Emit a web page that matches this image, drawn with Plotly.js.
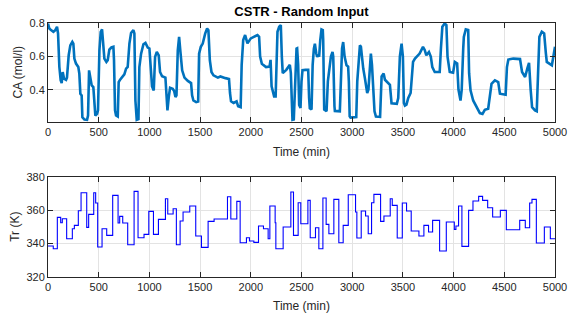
<!DOCTYPE html>
<html>
<head>
<meta charset="utf-8">
<script src="https://cdn.plot.ly/plotly-3.0.1.min.js"></script>
<style>html,body{margin:0;padding:0;background:#fff;}#chart{width:571px;height:324px;}</style>
</head>
<body>
<div id="chart"></div>
<script>
// Step input: reactor jacket temperature Tr (K), held from each time to the next
const trTime = [0,52,92,125,141,184,240,260,299,326,382,401,451,470,490,533,579,638,691,707,737,786,849,888,947,994,1040,1089,1158,1181,1234,1266,1303,1332,1398,1457,1513,1579,1638,1770,1803,1862,1895,1957,1987,2030,2076,2125,2171,2188,2240,2247,2319,2395,2421,2467,2493,2563,2586,2638,2671,2711,2743,2770,2819,2868,2911,2961,3033,3046,3089,3132,3158,3191,3214,3280,3313,3375,3395,3444,3494,3536,3582,3658,3707,3753,3793,3862,3928,4007,4023,4049,4082,4148,4191,4247,4286,4336,4385,4461,4520,4652,4707,4750,4773,4816,4895,4954,5000];
const trValue = [338.4,336.8,355.6,352.4,354.8,342.8,348.8,350.8,359.6,370.4,349.6,357.4,370.4,364.2,337.8,348.8,344.8,368.8,352.2,356.2,352.2,339.2,371.2,343.4,345.4,359.2,345.4,354.4,366.8,357.6,360.8,339.2,353.4,358.8,362.4,344.4,337.6,353.2,354.6,368,354.6,365.2,340.4,343.4,341.4,340.6,350.4,348.8,342.8,362.4,352.4,336.8,349.8,370.8,344.8,364.4,351.8,365.8,343.4,349.4,336.8,367.2,351.4,345.8,366.4,340.4,350.8,369.2,358.8,343.2,359.4,356.4,345.8,364.4,369.4,353.2,356.4,366.8,362.8,343.2,364.2,359.4,347.4,344.4,350.8,346.8,353.8,335.4,352.8,348.4,350.4,362.4,338.2,359.8,365.4,368.2,365.8,361.4,355.8,359.8,348.2,353.8,349.4,364.2,366.4,340.2,349.8,342.8,342.8];

// Concentration response CA (mol/l)
const caTime = [0,13,30,53,72,89,99,112,125,135,145,158,178,187,204,220,240,250,260,276,299,309,319,332,339,359,385,395,405,418,431,447,457,467,484,493,507,520,533,543,556,576,589,605,625,645,651,661,671,688,697,711,730,753,770,786,803,819,842,852,862,875,892,901,918,941,961,984,1000,1013,1026,1043,1056,1073,1092,1105,1125,1158,1168,1178,1191,1204,1230,1244,1257,1267,1280,1293,1306,1323,1346,1379,1411,1421,1434,1461,1481,1490,1507,1526,1550,1569,1582,1596,1612,1632,1675,1700,1750,1785,1795,1805,1830,1860,1875,1900,1910,1925,1944,1967,2000,2033,2066,2082,2092,2109,2150,2185,2195,2205,2230,2245,2255,2263,2280,2296,2306,2315,2350,2385,2395,2405,2411,2424,2437,2451,2457,2467,2477,2490,2500,2510,2540,2566,2575,2582,2599,2610,2622,2632,2645,2655,2665,2674,2685,2697,2710,2714,2724,2747,2760,2773,2790,2806,2813,2825,2829,2878,2885,2900,2911,2925,2944,2960,2967,2975,2984,3040,3050,3065,3076,3086,3100,3109,3125,3148,3160,3174,3184,3195,3207,3220,3234,3275,3290,3310,3323,3340,3355,3372,3388,3440,3454,3470,3487,3500,3510,3520,3535,3553,3576,3590,3600,3619,3665,3698,3715,3731,3757,3775,3790,3814,3863,3875,3889,3912,3929,3940,3962,3995,4012,4035,4048,4068,4080,4095,4101,4120,4144,4153,4167,4193,4226,4259,4285,4308,4341,4358,4374,4407,4440,4457,4490,4513,4526,4540,4589,4655,4675,4705,4728,4744,4760,4774,4803,4820,4833,4846,4870,4893,4910,4919,4969,4985,5000];
const caValue = [0.80,0.77,0.76,0.75,0.76,0.78,0.74,0.537,0.457,0.44,0.507,0.467,0.46,0.473,0.608,0.668,0.689,0.679,0.588,0.558,0.537,0.497,0.376,0.366,0.234,0.22,0.218,0.244,0.517,0.467,0.426,0.416,0.335,0.244,0.254,0.275,0.638,0.75,0.764,0.659,0.588,0.568,0.578,0.642,0.655,0.659,0.578,0.275,0.244,0.238,0.446,0.461,0.473,0.493,0.527,0.537,0.679,0.743,0.76,0.74,0.335,0.218,0.222,0.537,0.618,0.675,0.683,0.655,0.649,0.537,0.42,0.396,0.598,0.628,0.608,0.507,0.481,0.473,0.335,0.275,0.356,0.412,0.406,0.392,0.356,0.366,0.638,0.719,0.628,0.517,0.473,0.453,0.44,0.366,0.335,0.325,0.329,0.618,0.659,0.679,0.739,0.77,0.76,0.578,0.507,0.487,0.473,0.48,0.47,0.465,0.38,0.33,0.32,0.33,0.30,0.295,0.55,0.70,0.73,0.68,0.71,0.72,0.73,0.72,0.60,0.557,0.537,0.54,0.58,0.42,0.36,0.36,0.60,0.75,0.78,0.79,0.60,0.50,0.52,0.55,0.50,0.25,0.218,0.22,0.50,0.648,0.65,0.55,0.308,0.29,0.45,0.518,0.52,0.52,0.35,0.288,0.28,0.55,0.648,0.678,0.62,0.598,0.61,0.60,0.70,0.764,0.76,0.70,0.28,0.27,0.45,0.52,0.60,0.628,0.60,0.30,0.272,0.27,0.40,0.65,0.688,0.60,0.548,0.54,0.45,0.24,0.232,0.235,0.45,0.62,0.668,0.66,0.56,0.528,0.47,0.38,0.40,0.55,0.618,0.55,0.40,0.27,0.238,0.236,0.48,0.498,0.46,0.448,0.44,0.43,0.318,0.315,0.35,0.60,0.678,0.60,0.32,0.304,0.31,0.35,0.38,0.50,0.568,0.588,0.618,0.659,0.64,0.608,0.628,0.60,0.537,0.507,0.507,0.65,0.78,0.80,0.79,0.60,0.507,0.503,0.568,0.558,0.40,0.335,0.40,0.65,0.719,0.764,0.76,0.50,0.396,0.335,0.295,0.259,0.254,0.279,0.285,0.356,0.436,0.457,0.446,0.376,0.37,0.37,0.537,0.582,0.588,0.585,0.507,0.477,0.53,0.562,0.40,0.295,0.275,0.27,0.50,0.719,0.75,0.74,0.62,0.568,0.547,0.62,0.659];

const xTicks = [0,500,1000,1500,2000,2500,3000,3500,4000,4500,5000];
const caTicks = [0.4,0.6,0.8];
const trTicks = [320,340,360,380];

const FONT = 'Liberation Sans, Arial, Helvetica, sans-serif';
const AX = '#262626';
const GRID = '#e3e3e3';

function xaxisCfg(anchor) {
  return {
    domain: [48/571, 555/571], anchor: anchor, range: [0, 5000],
    tickmode: 'array', tickvals: xTicks, ticktext: xTicks.map(String),
    ticks: 'inside', ticklen: 5, tickcolor: AX, tickwidth: 1,
    showline: true, linecolor: AX, linewidth: 1, mirror: 'ticks',
    showgrid: true, gridcolor: GRID, gridwidth: 1, zeroline: false,
    tickfont: {family: FONT, size: 11, color: AX}
  };
}
function yaxisCfg(anchor, dom, rng, ticks, label) {
  return {
    domain: dom, anchor: anchor, range: rng,
    tickmode: 'array', tickvals: ticks, ticktext: ticks.map(String),
    ticks: 'inside', ticklen: 5, tickcolor: AX, tickwidth: 1,
    showline: true, linecolor: AX, linewidth: 1, mirror: 'ticks',
    showgrid: true, gridcolor: GRID, gridwidth: 1, zeroline: false,
    tickfont: {family: FONT, size: 11, color: AX},
    title: {text: label, font: {family: FONT, size: 12, color: AX}, standoff: 4}
  };
}

const data = [
  {x: caTime, y: caValue, type: 'scatter', mode: 'lines', xaxis: 'x', yaxis: 'y',
   line: {color: '#0072BD', width: 2.6}, hoverinfo: 'skip'},
  {x: trTime, y: trValue, type: 'scatter', mode: 'lines', xaxis: 'x2', yaxis: 'y2',
   line: {color: '#0000FF', width: 1.1, shape: 'hv'}, hoverinfo: 'skip'}
];

const xTitleFont = {family: FONT, size: 12, color: AX};
const layout = {
  width: 571, height: 324,
  margin: {l: 0, r: 0, t: 0, b: 0},
  paper_bgcolor: '#ffffff', plot_bgcolor: '#ffffff',
  showlegend: false,
  title: {text: '<b>CSTR - Random Input</b>', font: {family: FONT, size: 13, color: '#000'},
          x: 301.5/571, xref: 'paper', xanchor: 'center', y: 1 - 11/324, yref: 'container', yanchor: 'middle'},
  xaxis: xaxisCfg('y'),
  yaxis: yaxisCfg('x', [1 - 122/324, 1 - 22.5/324], [0.205, 0.806], caTicks, 'CA (mol/l)'),
  xaxis2: xaxisCfg('y2'),
  yaxis2: yaxisCfg('x2', [1 - 276.7/324, 1 - 176.7/324], [320, 380], trTicks, 'Tr (K)'),
  annotations: [
    {text: 'Time (min)', xref: 'paper', yref: 'paper', x: 301.5/571, y: 1 - 152/324,
     xanchor: 'center', yanchor: 'middle', showarrow: false, font: xTitleFont},
    {text: 'Time (min)', xref: 'paper', yref: 'paper', x: 301.5/571, y: 1 - 306/324,
     xanchor: 'center', yanchor: 'middle', showarrow: false, font: xTitleFont}
  ]
};

Plotly.newPlot('chart', data, layout, {staticPlot: true, displayModeBar: false});
</script>
</body>
</html>
